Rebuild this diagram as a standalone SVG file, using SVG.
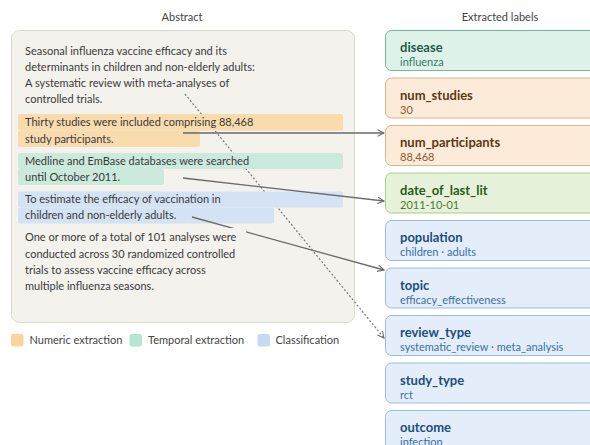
<svg xmlns="http://www.w3.org/2000/svg" width="590" height="445" viewBox="0 0 590 445">
  <defs>
    <marker id="arrow" viewBox="0 0 10 10" refX="9" refY="5" markerWidth="8" markerHeight="8" orient="auto" markerUnits="userSpaceOnUse">
      <path d="M1,1 L9,5 L1,9" fill="none" stroke="#6a6a6a" stroke-width="1.3"/>
    </marker>
    <style>
      text { font-family: Lato, "Noto Sans", "DejaVu Sans", sans-serif; }
      .head { font-size: 11px; fill: #444; text-anchor: middle; }
      .para { font-size: 11px; fill: #3a3a3a; }
      .legend { font-size: 11px; fill: #444; }
      .panel { fill: #f3f2ec; stroke: #dcdad0; stroke-width: 1; }
      .hl-num { fill: #f8dcae; }
      .hl-tmp { fill: #cbeadc; }
      .hl-cls { fill: #d3e3f4; }
      .link { fill: none; stroke: #6a6a6a; stroke-width: 1.3; }
      .dot { fill: none; stroke: #777; stroke-width: 1.2; stroke-dasharray: 2 2; }
      .card rect { stroke-width: 1; }
      .name { font-size: 13px; font-weight: bold; }
      .val { font-size: 11px; }
      .teal rect { fill: #def2ea; stroke: #72b9a0; }
      .teal .name { fill: #1f5d48; } .teal .val { fill: #2f7d62; }
      .sand rect { fill: #fbebd8; stroke: #d8b68e; }
      .sand .name { fill: #5a3a12; } .sand .val { fill: #8a5c2c; }
      .leaf rect { fill: #e6f2da; stroke: #a8cf8c; }
      .leaf .name { fill: #2e5a1a; } .leaf .val { fill: #4b7a2e; }
      .sky rect { fill: #e3eefa; stroke: #9cbde0; }
      .sky .name { fill: #1e4d7e; } .sky .val { fill: #3a6fa8; }
    </style>
  </defs>

  <rect width="590" height="445" fill="#ffffff"/>

  <!-- column headings -->
  <text class="head" x="182" y="21">Abstract</text>
  <text class="head" x="500" y="21">Extracted labels</text>

  <!-- abstract panel -->
  <rect class="panel" x="11.5" y="30.5" width="343" height="292" rx="8"/>

  <!-- title-level link runs beneath the highlighted sentences -->
  <g id="link-review-type">
    <line class="dot" x1="185" y1="94" x2="384" y2="338" marker-end="url(#arrow)"/>
  </g>

  <g id="abstract-title">
    <text class="para" x="25" y="55">Seasonal influenza vaccine efficacy and its</text>
    <text class="para" x="25" y="71">determinants in children and non-elderly adults:</text>
    <text class="para" x="25" y="87">A systematic review with meta-analyses of</text>
    <text class="para" x="25" y="103">controlled trials.</text>
  </g>

  <g id="span-participants">
    <rect class="hl-num" x="18" y="114" width="325" height="16.5" rx="2"/>
    <rect class="hl-num" x="18" y="130.5" width="182" height="16.5" rx="2"/>
    <text class="para" x="25" y="126">Thirty studies were included comprising 88,468</text>
    <text class="para" x="25" y="142.5">study participants.</text>
  </g>

  <g id="span-search-date">
    <rect class="hl-tmp" x="18" y="153" width="325" height="16" rx="2"/>
    <rect class="hl-tmp" x="18" y="169" width="146" height="16" rx="2"/>
    <text class="para" x="25" y="164.5">Medline and EmBase databases were searched</text>
    <text class="para" x="25" y="180.5">until October 2011.</text>
  </g>

  <g id="span-objective">
    <rect class="hl-cls" x="18" y="191.5" width="325" height="16" rx="2"/>
    <rect class="hl-cls" x="18" y="207.5" width="256" height="16" rx="2"/>
    <text class="para" x="25" y="203">To estimate the efficacy of vaccination in</text>
    <text class="para" x="25" y="219">children and non-elderly adults.</text>
  </g>

  <!-- sentence-to-label links -->
  <g id="connectors">
    <line class="link" x1="183" y1="133" x2="384" y2="133" marker-end="url(#arrow)"/>
    <line class="link" x1="183" y1="178" x2="384" y2="201" marker-end="url(#arrow)"/>
    <line class="link" x1="192" y1="217" x2="384" y2="270" marker-end="url(#arrow)"/>
  </g>

  <!-- closing sentence sits on a panel-coloured backing -->
  <g id="span-methods">
    <rect x="18" y="228" width="228" height="66" fill="#f3f2ec"/>
    <text class="para" x="25" y="241">One or more of a total of 101 analyses were</text>
    <text class="para" x="25" y="257.5">conducted across 30 randomized controlled</text>
    <text class="para" x="25" y="274">trials to assess vaccine efficacy across</text>
    <text class="para" x="25" y="290">multiple influenza seasons.</text>
  </g>

  <!-- legend -->
  <g id="legend">
    <rect x="11" y="334" width="12.5" height="12.5" rx="2.5" fill="#f9d59c"/>
    <text class="legend" x="29.5" y="344">Numeric extraction</text>
    <rect x="129.5" y="334" width="12.5" height="12.5" rx="2.5" fill="#b4e6d3"/>
    <text class="legend" x="148" y="344">Temporal extraction</text>
    <rect x="257.5" y="334" width="12.5" height="12.5" rx="2.5" fill="#c5dbf5"/>
    <text class="legend" x="275.5" y="344">Classification</text>
  </g>

  <!-- label cards -->
  <g id="card-disease" class="card teal">
    <rect x="385.5" y="30.5" width="230" height="40" rx="6"/>
    <text class="name" x="400" y="52">disease</text>
    <text class="val" x="400" y="66">influenza</text>
  </g>
  <g id="card-num-studies" class="card sand">
    <rect x="385.5" y="78" width="230" height="40" rx="6"/>
    <text class="name" x="400" y="99.5">num_studies</text>
    <text class="val" x="400" y="113.5">30</text>
  </g>
  <g id="card-num-participants" class="card sand">
    <rect x="385.5" y="125.5" width="230" height="40" rx="6"/>
    <text class="name" x="400" y="147">num_participants</text>
    <text class="val" x="400" y="161">88,468</text>
  </g>
  <g id="card-date-of-last-lit" class="card leaf">
    <rect x="385.5" y="173" width="230" height="40" rx="6"/>
    <text class="name" x="400" y="194.5">date_of_last_lit</text>
    <text class="val" x="400" y="208.5">2011-10-01</text>
  </g>
  <g id="card-population" class="card sky">
    <rect x="385.5" y="220.5" width="230" height="40" rx="6"/>
    <text class="name" x="400" y="242">population</text>
    <text class="val" x="400" y="256">children · adults</text>
  </g>
  <g id="card-topic" class="card sky">
    <rect x="385.5" y="268" width="230" height="40" rx="6"/>
    <text class="name" x="400" y="289.5">topic</text>
    <text class="val" x="400" y="303.5">efficacy_effectiveness</text>
  </g>
  <g id="card-review-type" class="card sky">
    <rect x="385.5" y="315.5" width="230" height="40" rx="6"/>
    <text class="name" x="400" y="337">review_type</text>
    <text class="val" x="400" y="351">systematic_review · meta_analysis</text>
  </g>
  <g id="card-study-type" class="card sky">
    <rect x="385.5" y="363" width="230" height="40" rx="6"/>
    <text class="name" x="400" y="384.5">study_type</text>
    <text class="val" x="400" y="398.5">rct</text>
  </g>
  <g id="card-outcome" class="card sky">
    <rect x="385.5" y="410.5" width="230" height="40" rx="6"/>
    <text class="name" x="400" y="432">outcome</text>
    <text class="val" x="400" y="446">infection</text>
  </g>
</svg>
